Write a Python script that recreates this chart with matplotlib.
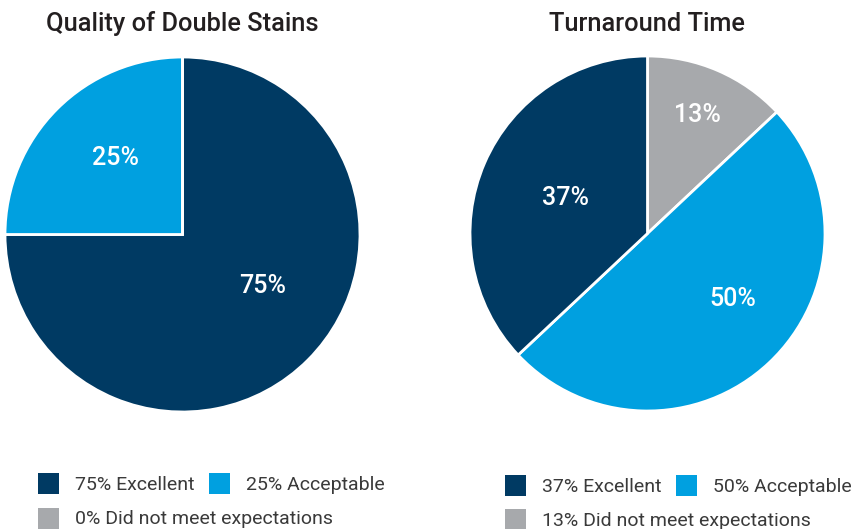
import matplotlib
matplotlib.use("Agg")
import matplotlib.pyplot as plt
from matplotlib.patches import Rectangle

plt.rcParams["font.family"] = ["Roboto", "DejaVu Sans"]

# data
categories = ["Excellent", "Acceptable", "Did not meet expectations"]
quality_values = [75, 25, 0]
turnaround_values = [37, 50, 13]
titles = ["Quality of Double Stains", "Turnaround Time"]

DARK = "#003a63"
LIGHT = "#00a0e0"
GREY = "#a7a9ac"
colors = [DARK, LIGHT, GREY]

W, H = 855, 529
fig = plt.figure(figsize=(W / 100, H / 100), dpi=100)


def px_axes(x0, y0, x1, y1):
    # pixel box (top-left origin) -> figure axes
    return fig.add_axes([x0 / W, 1 - y1 / H, (x1 - x0) / W, (y1 - y0) / H])


def draw_pie(ax, values, wedge_order, label_pos):
    vals = [values[i] for i in wedge_order]
    cols = [colors[i] for i in wedge_order]
    ax.pie(vals, colors=cols, startangle=90, counterclock=False,
           wedgeprops=dict(edgecolor="white", linewidth=2))
    for i, (x, y) in zip(wedge_order, label_pos):
        if values[i] > 0:
            ax.text(x, y, f"{values[i]}%", color="white", fontsize=18,
                    fontweight="medium", ha="center", va="center")
    ax.set_xlim(-1, 1)
    ax.set_ylim(-1, 1)
    ax.set_aspect("equal")
    ax.axis("off")


# left pie: dark then light, clockwise from the top
ax1 = px_axes(5, 57, 360, 412)
draw_pie(ax1, quality_values, [0, 1, 2], [(0.45, -0.29), (-0.38, 0.43), (0, 0)])

# right pie: grey, light, dark clockwise from the top
ax2 = px_axes(470, 56, 825, 411)
draw_pie(ax2, turnaround_values, [2, 1, 0], [(0.28, 0.67), (0.48, -0.37), (-0.46, 0.20)])

fig.text(182 / W, 1 - 24 / H, titles[0], fontsize=18.3, fontweight="medium",
         color="#231f20", ha="center", va="center")
fig.text(647 / W, 1 - 24 / H, titles[1], fontsize=18.3, fontweight="medium",
         color="#231f20", ha="center", va="center")


def legend_item(x, y, color, text):
    fig.patches.append(Rectangle((x / W, 1 - (y + 10.5) / H), 21 / W, 21 / H,
                                 transform=fig.transFigure, facecolor=color,
                                 edgecolor="none"))
    fig.text((x + 37) / W, 1 - (y + 1.5) / H, text, fontsize=14, color="#3a3a3a",
             ha="left", va="center")


legend_item(38, 483, DARK, f"{quality_values[0]}% {categories[0]}")
legend_item(209, 483, LIGHT, f"{quality_values[1]}% {categories[1]}")
legend_item(38, 518, GREY, f"{quality_values[2]}% {categories[2]}")

legend_item(505, 485, DARK, f"{turnaround_values[0]}% {categories[0]}")
legend_item(676, 485, LIGHT, f"{turnaround_values[1]}% {categories[1]}")
legend_item(505, 519, GREY, f"{turnaround_values[2]}% {categories[2]}")

fig.savefig("out.png", dpi=100, facecolor="white")
